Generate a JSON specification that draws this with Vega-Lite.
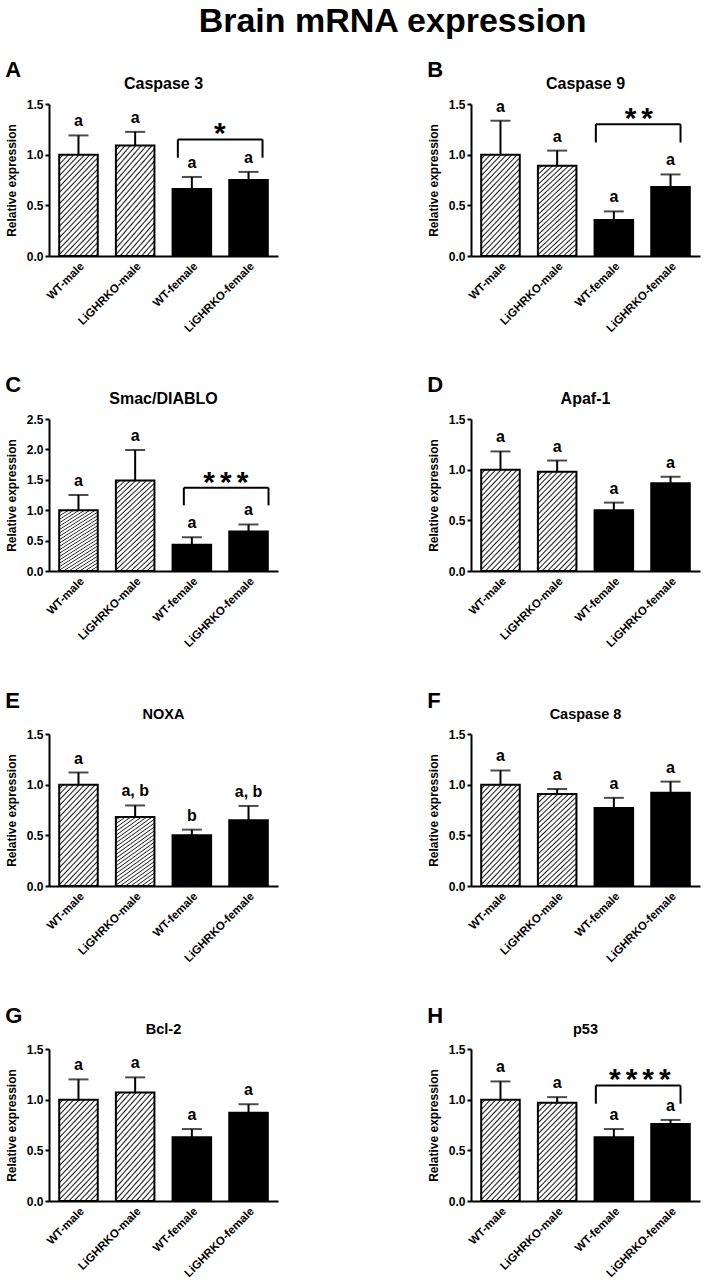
{
  "$schema": "https://vega.github.io/schema/vega-lite/v6.json",
  "title": {"text": "Brain mRNA expression", "fontSize": 34, "anchor": "middle", "offset": 20, "dx": 40},
  "columns": 2,
  "spacing": {"column": 149, "row": 39},
  "datasets": {
    "bars": [
      {"panel": "A", "group": "WT-male", "sex": "male", "mean": 1.0, "upper": 1.19, "letter": "a"},
      {"panel": "A", "group": "LiGHRKO-male", "sex": "male", "mean": 1.09, "upper": 1.225, "letter": "a"},
      {"panel": "A", "group": "WT-female", "sex": "female", "mean": 0.66, "upper": 0.78, "letter": "a"},
      {"panel": "A", "group": "LiGHRKO-female", "sex": "female", "mean": 0.75, "upper": 0.83, "letter": "a"},
      {"panel": "B", "group": "WT-male", "sex": "male", "mean": 1.0, "upper": 1.335, "letter": "a"},
      {"panel": "B", "group": "LiGHRKO-male", "sex": "male", "mean": 0.89, "upper": 1.04, "letter": "a"},
      {"panel": "B", "group": "WT-female", "sex": "female", "mean": 0.355, "upper": 0.44, "letter": "a"},
      {"panel": "B", "group": "LiGHRKO-female", "sex": "female", "mean": 0.68, "upper": 0.805, "letter": "a"},
      {"panel": "C", "group": "WT-male", "sex": "male", "mean": 1.0, "upper": 1.25, "letter": "a"},
      {"panel": "C", "group": "LiGHRKO-male", "sex": "male", "mean": 1.49, "upper": 1.99, "letter": "a"},
      {"panel": "C", "group": "WT-female", "sex": "female", "mean": 0.43, "upper": 0.555, "letter": "a"},
      {"panel": "C", "group": "LiGHRKO-female", "sex": "female", "mean": 0.65, "upper": 0.765, "letter": "a"},
      {"panel": "D", "group": "WT-male", "sex": "male", "mean": 1.0, "upper": 1.18, "letter": "a"},
      {"panel": "D", "group": "LiGHRKO-male", "sex": "male", "mean": 0.98, "upper": 1.09, "letter": "a"},
      {"panel": "D", "group": "WT-female", "sex": "female", "mean": 0.6, "upper": 0.675, "letter": "a"},
      {"panel": "D", "group": "LiGHRKO-female", "sex": "female", "mean": 0.865, "upper": 0.93, "letter": "a"},
      {"panel": "E", "group": "WT-male", "sex": "male", "mean": 1.0, "upper": 1.12, "letter": "a"},
      {"panel": "E", "group": "LiGHRKO-male", "sex": "male", "mean": 0.68, "upper": 0.795, "letter": "a, b"},
      {"panel": "E", "group": "WT-female", "sex": "female", "mean": 0.5, "upper": 0.556, "letter": "b"},
      {"panel": "E", "group": "LiGHRKO-female", "sex": "female", "mean": 0.65, "upper": 0.79, "letter": "a, b"},
      {"panel": "F", "group": "WT-male", "sex": "male", "mean": 1.0, "upper": 1.14, "letter": "a"},
      {"panel": "F", "group": "LiGHRKO-male", "sex": "male", "mean": 0.907, "upper": 0.957, "letter": "a"},
      {"panel": "F", "group": "WT-female", "sex": "female", "mean": 0.77, "upper": 0.87, "letter": "a"},
      {"panel": "F", "group": "LiGHRKO-female", "sex": "female", "mean": 0.92, "upper": 1.03, "letter": "a"},
      {"panel": "G", "group": "WT-male", "sex": "male", "mean": 1.0, "upper": 1.2, "letter": "a"},
      {"panel": "G", "group": "LiGHRKO-male", "sex": "male", "mean": 1.07, "upper": 1.22, "letter": "a"},
      {"panel": "G", "group": "WT-female", "sex": "female", "mean": 0.63, "upper": 0.71, "letter": "a"},
      {"panel": "G", "group": "LiGHRKO-female", "sex": "female", "mean": 0.87, "upper": 0.955, "letter": "a"},
      {"panel": "H", "group": "WT-male", "sex": "male", "mean": 1.0, "upper": 1.18, "letter": "a"},
      {"panel": "H", "group": "LiGHRKO-male", "sex": "male", "mean": 0.97, "upper": 1.025, "letter": "a"},
      {"panel": "H", "group": "WT-female", "sex": "female", "mean": 0.63, "upper": 0.71, "letter": "a"},
      {"panel": "H", "group": "LiGHRKO-female", "sex": "female", "mean": 0.76, "upper": 0.8, "letter": "a"}
    ]
  },
  "concat": [
    {
      "title": {"text": "A", "anchor": "start", "fontSize": 22, "offset": -6},
      "vconcat": [{
        "title": {"text": "Caspase 3", "fontSize": 16, "anchor": "middle", "frame": "group", "offset": 6},
        "width": 229, "height": 152,
        "data": {"name": "bars"},
        "transform": [{"filter": "datum.panel === 'A'"}],
        "encoding": {
          "x": {"field": "group", "type": "nominal", "title": null, "scale": {"domain": ["WT-male", "LiGHRKO-male", "WT-female", "LiGHRKO-female"], "paddingInner": 0.32, "paddingOuter": 0.18}},
          "y": {"field": "mean", "type": "quantitative", "title": "Relative expression", "scale": {"domain": [0, 1.5], "nice": false}, "axis": {"values": [0, 0.5, 1, 1.5], "format": ".1f"}}
        },
        "layer": [
          {"transform": [{"filter": "datum.sex === 'male'"}], "mark": {"type": "bar", "stroke": "black", "strokeWidth": 2, "fill": {"gradient": "linear", "x1": 0, "y1": 0, "x2": 0.48, "y2": 1.2, "stops": [{"offset": 0, "color": "#fff"}, {"offset": 0.018, "color": "#fff"}, {"offset": 0.03, "color": "#222"}, {"offset": 0.04, "color": "#fff"}, {"offset": 0.058, "color": "#fff"}, {"offset": 0.07, "color": "#222"}, {"offset": 0.08, "color": "#fff"}, {"offset": 0.098, "color": "#fff"}, {"offset": 0.11, "color": "#222"}, {"offset": 0.12, "color": "#fff"}, {"offset": 0.138, "color": "#fff"}, {"offset": 0.15, "color": "#222"}, {"offset": 0.16, "color": "#fff"}, {"offset": 0.178, "color": "#fff"}, {"offset": 0.19, "color": "#222"}, {"offset": 0.2, "color": "#fff"}, {"offset": 0.218, "color": "#fff"}, {"offset": 0.23, "color": "#222"}, {"offset": 0.24, "color": "#fff"}, {"offset": 0.258, "color": "#fff"}, {"offset": 0.27, "color": "#222"}, {"offset": 0.28, "color": "#fff"}, {"offset": 0.298, "color": "#fff"}, {"offset": 0.31, "color": "#222"}, {"offset": 0.32, "color": "#fff"}, {"offset": 0.338, "color": "#fff"}, {"offset": 0.35, "color": "#222"}, {"offset": 0.36, "color": "#fff"}, {"offset": 0.378, "color": "#fff"}, {"offset": 0.39, "color": "#222"}, {"offset": 0.4, "color": "#fff"}, {"offset": 0.418, "color": "#fff"}, {"offset": 0.43, "color": "#222"}, {"offset": 0.44, "color": "#fff"}, {"offset": 0.458, "color": "#fff"}, {"offset": 0.47, "color": "#222"}, {"offset": 0.48, "color": "#fff"}, {"offset": 0.498, "color": "#fff"}, {"offset": 0.51, "color": "#222"}, {"offset": 0.52, "color": "#fff"}, {"offset": 0.538, "color": "#fff"}, {"offset": 0.55, "color": "#222"}, {"offset": 0.56, "color": "#fff"}, {"offset": 0.578, "color": "#fff"}, {"offset": 0.59, "color": "#222"}, {"offset": 0.6, "color": "#fff"}, {"offset": 0.618, "color": "#fff"}, {"offset": 0.63, "color": "#222"}, {"offset": 0.64, "color": "#fff"}, {"offset": 0.658, "color": "#fff"}, {"offset": 0.67, "color": "#222"}, {"offset": 0.68, "color": "#fff"}, {"offset": 0.698, "color": "#fff"}, {"offset": 0.71, "color": "#222"}, {"offset": 0.72, "color": "#fff"}, {"offset": 0.738, "color": "#fff"}, {"offset": 0.75, "color": "#222"}, {"offset": 0.76, "color": "#fff"}, {"offset": 0.778, "color": "#fff"}, {"offset": 0.79, "color": "#222"}, {"offset": 0.8, "color": "#fff"}, {"offset": 0.818, "color": "#fff"}, {"offset": 0.83, "color": "#222"}, {"offset": 0.84, "color": "#fff"}, {"offset": 0.858, "color": "#fff"}, {"offset": 0.87, "color": "#222"}, {"offset": 0.88, "color": "#fff"}, {"offset": 0.898, "color": "#fff"}, {"offset": 0.91, "color": "#222"}, {"offset": 0.92, "color": "#fff"}, {"offset": 0.938, "color": "#fff"}, {"offset": 0.95, "color": "#222"}, {"offset": 0.96, "color": "#fff"}, {"offset": 0.978, "color": "#fff"}, {"offset": 0.99, "color": "#222"}, {"offset": 1, "color": "#fff"}]}}},
          {"transform": [{"filter": "datum.sex === 'female'"}], "mark": {"type": "bar", "fill": "black", "stroke": "black", "strokeWidth": 2}},
          {"mark": {"type": "rule", "color": "black", "strokeWidth": 2}, "encoding": {"y2": {"field": "upper"}}},
          {"mark": {"type": "tick", "color": "black", "size": 20, "thickness": 2}, "encoding": {"y": {"field": "upper", "type": "quantitative", "title": "Relative expression", "scale": {"domain": [0, 1.5], "nice": false}}}},
          {"mark": {"type": "text", "dy": -9, "fontSize": 16, "fontWeight": "bold", "baseline": "alphabetic", "color": "black"}, "encoding": {"y": {"field": "upper", "type": "quantitative", "title": "Relative expression", "scale": {"domain": [0, 1.5], "nice": false}}, "text": {"field": "letter"}}},
          {
            "data": {"values": [{"from": "WT-female", "to": "LiGHRKO-female", "top": 1.15, "bottom": 0.97, "stars": "*"}]},
            "encoding": {
              "x": {"field": "from", "type": "nominal", "title": null, "scale": {"domain": ["WT-male", "LiGHRKO-male", "WT-female", "LiGHRKO-female"]}},
              "y": {"field": "top", "type": "quantitative", "title": "Relative expression", "scale": {"domain": [0, 1.5], "nice": false}}
            },
            "layer": [
              {"mark": {"type": "rule", "color": "black", "strokeWidth": 2, "xOffset": -14, "x2Offset": 14}, "encoding": {"x2": {"field": "to"}}},
              {"mark": {"type": "rule", "color": "black", "strokeWidth": 2, "xOffset": -14}, "encoding": {"y2": {"field": "bottom"}}},
              {"mark": {"type": "rule", "color": "black", "strokeWidth": 2, "xOffset": 14}, "encoding": {"x": {"field": "to", "type": "nominal", "title": null, "scale": {"domain": ["WT-male", "LiGHRKO-male", "WT-female", "LiGHRKO-female"]}}, "y2": {"field": "bottom"}}},
              {"mark": {"type": "text", "dx": 28, "dy": 4, "fontSize": 30, "fontWeight": "bold", "baseline": "alphabetic", "color": "black"}, "encoding": {"text": {"field": "stars"}}}
            ]
          }
        ]
      }]
    },
    {
      "title": {"text": "B", "anchor": "start", "fontSize": 22, "offset": -6},
      "vconcat": [{
        "title": {"text": "Caspase 9", "fontSize": 16, "anchor": "middle", "frame": "group", "offset": 6},
        "width": 229, "height": 152,
        "data": {"name": "bars"},
        "transform": [{"filter": "datum.panel === 'B'"}],
        "encoding": {
          "x": {"field": "group", "type": "nominal", "title": null, "scale": {"domain": ["WT-male", "LiGHRKO-male", "WT-female", "LiGHRKO-female"], "paddingInner": 0.32, "paddingOuter": 0.18}},
          "y": {"field": "mean", "type": "quantitative", "title": "Relative expression", "scale": {"domain": [0, 1.5], "nice": false}, "axis": {"values": [0, 0.5, 1, 1.5], "format": ".1f"}}
        },
        "layer": [
          {"transform": [{"filter": "datum.sex === 'male'"}], "mark": {"type": "bar", "stroke": "black", "strokeWidth": 2, "fill": {"gradient": "linear", "x1": 0, "y1": 0, "x2": 0.48, "y2": 1.2, "stops": [{"offset": 0, "color": "#fff"}, {"offset": 0.018, "color": "#fff"}, {"offset": 0.03, "color": "#222"}, {"offset": 0.04, "color": "#fff"}, {"offset": 0.058, "color": "#fff"}, {"offset": 0.07, "color": "#222"}, {"offset": 0.08, "color": "#fff"}, {"offset": 0.098, "color": "#fff"}, {"offset": 0.11, "color": "#222"}, {"offset": 0.12, "color": "#fff"}, {"offset": 0.138, "color": "#fff"}, {"offset": 0.15, "color": "#222"}, {"offset": 0.16, "color": "#fff"}, {"offset": 0.178, "color": "#fff"}, {"offset": 0.19, "color": "#222"}, {"offset": 0.2, "color": "#fff"}, {"offset": 0.218, "color": "#fff"}, {"offset": 0.23, "color": "#222"}, {"offset": 0.24, "color": "#fff"}, {"offset": 0.258, "color": "#fff"}, {"offset": 0.27, "color": "#222"}, {"offset": 0.28, "color": "#fff"}, {"offset": 0.298, "color": "#fff"}, {"offset": 0.31, "color": "#222"}, {"offset": 0.32, "color": "#fff"}, {"offset": 0.338, "color": "#fff"}, {"offset": 0.35, "color": "#222"}, {"offset": 0.36, "color": "#fff"}, {"offset": 0.378, "color": "#fff"}, {"offset": 0.39, "color": "#222"}, {"offset": 0.4, "color": "#fff"}, {"offset": 0.418, "color": "#fff"}, {"offset": 0.43, "color": "#222"}, {"offset": 0.44, "color": "#fff"}, {"offset": 0.458, "color": "#fff"}, {"offset": 0.47, "color": "#222"}, {"offset": 0.48, "color": "#fff"}, {"offset": 0.498, "color": "#fff"}, {"offset": 0.51, "color": "#222"}, {"offset": 0.52, "color": "#fff"}, {"offset": 0.538, "color": "#fff"}, {"offset": 0.55, "color": "#222"}, {"offset": 0.56, "color": "#fff"}, {"offset": 0.578, "color": "#fff"}, {"offset": 0.59, "color": "#222"}, {"offset": 0.6, "color": "#fff"}, {"offset": 0.618, "color": "#fff"}, {"offset": 0.63, "color": "#222"}, {"offset": 0.64, "color": "#fff"}, {"offset": 0.658, "color": "#fff"}, {"offset": 0.67, "color": "#222"}, {"offset": 0.68, "color": "#fff"}, {"offset": 0.698, "color": "#fff"}, {"offset": 0.71, "color": "#222"}, {"offset": 0.72, "color": "#fff"}, {"offset": 0.738, "color": "#fff"}, {"offset": 0.75, "color": "#222"}, {"offset": 0.76, "color": "#fff"}, {"offset": 0.778, "color": "#fff"}, {"offset": 0.79, "color": "#222"}, {"offset": 0.8, "color": "#fff"}, {"offset": 0.818, "color": "#fff"}, {"offset": 0.83, "color": "#222"}, {"offset": 0.84, "color": "#fff"}, {"offset": 0.858, "color": "#fff"}, {"offset": 0.87, "color": "#222"}, {"offset": 0.88, "color": "#fff"}, {"offset": 0.898, "color": "#fff"}, {"offset": 0.91, "color": "#222"}, {"offset": 0.92, "color": "#fff"}, {"offset": 0.938, "color": "#fff"}, {"offset": 0.95, "color": "#222"}, {"offset": 0.96, "color": "#fff"}, {"offset": 0.978, "color": "#fff"}, {"offset": 0.99, "color": "#222"}, {"offset": 1, "color": "#fff"}]}}},
          {"transform": [{"filter": "datum.sex === 'female'"}], "mark": {"type": "bar", "fill": "black", "stroke": "black", "strokeWidth": 2}},
          {"mark": {"type": "rule", "color": "black", "strokeWidth": 2}, "encoding": {"y2": {"field": "upper"}}},
          {"mark": {"type": "tick", "color": "black", "size": 20, "thickness": 2}, "encoding": {"y": {"field": "upper", "type": "quantitative", "title": "Relative expression", "scale": {"domain": [0, 1.5], "nice": false}}}},
          {"mark": {"type": "text", "dy": -9, "fontSize": 16, "fontWeight": "bold", "baseline": "alphabetic", "color": "black"}, "encoding": {"y": {"field": "upper", "type": "quantitative", "title": "Relative expression", "scale": {"domain": [0, 1.5], "nice": false}}, "text": {"field": "letter"}}},
          {
            "data": {"values": [{"from": "WT-female", "to": "LiGHRKO-female", "top": 1.3, "bottom": 1.12, "stars": "*\u2006*"}]},
            "encoding": {
              "x": {"field": "from", "type": "nominal", "title": null, "scale": {"domain": ["WT-male", "LiGHRKO-male", "WT-female", "LiGHRKO-female"]}},
              "y": {"field": "top", "type": "quantitative", "title": "Relative expression", "scale": {"domain": [0, 1.5], "nice": false}}
            },
            "layer": [
              {"mark": {"type": "rule", "color": "black", "strokeWidth": 2, "xOffset": -18, "x2Offset": 10}, "encoding": {"x2": {"field": "to"}}},
              {"mark": {"type": "rule", "color": "black", "strokeWidth": 2, "xOffset": -18}, "encoding": {"y2": {"field": "bottom"}}},
              {"mark": {"type": "rule", "color": "black", "strokeWidth": 2, "xOffset": 10}, "encoding": {"x": {"field": "to", "type": "nominal", "title": null, "scale": {"domain": ["WT-male", "LiGHRKO-male", "WT-female", "LiGHRKO-female"]}}, "y2": {"field": "bottom"}}},
              {"mark": {"type": "text", "dx": 25, "dy": 4, "fontSize": 30, "fontWeight": "bold", "baseline": "alphabetic", "color": "black"}, "encoding": {"text": {"field": "stars"}}}
            ]
          }
        ]
      }]
    },
    {
      "title": {"text": "C", "anchor": "start", "fontSize": 22, "offset": -6},
      "vconcat": [{
        "title": {"text": "Smac/DIABLO", "fontSize": 16, "anchor": "middle", "frame": "group", "offset": 6},
        "width": 229, "height": 152,
        "data": {"name": "bars"},
        "transform": [{"filter": "datum.panel === 'C'"}],
        "encoding": {
          "x": {"field": "group", "type": "nominal", "title": null, "scale": {"domain": ["WT-male", "LiGHRKO-male", "WT-female", "LiGHRKO-female"], "paddingInner": 0.32, "paddingOuter": 0.18}},
          "y": {"field": "mean", "type": "quantitative", "title": "Relative expression", "scale": {"domain": [0, 2.5], "nice": false}, "axis": {"values": [0, 0.5, 1, 1.5, 2, 2.5], "format": ".1f"}}
        },
        "layer": [
          {"transform": [{"filter": "datum.sex === 'male'"}], "mark": {"type": "bar", "stroke": "black", "strokeWidth": 2, "fill": {"gradient": "linear", "x1": 0, "y1": 0, "x2": 0.48, "y2": 1.2, "stops": [{"offset": 0, "color": "#fff"}, {"offset": 0.018, "color": "#fff"}, {"offset": 0.03, "color": "#222"}, {"offset": 0.04, "color": "#fff"}, {"offset": 0.058, "color": "#fff"}, {"offset": 0.07, "color": "#222"}, {"offset": 0.08, "color": "#fff"}, {"offset": 0.098, "color": "#fff"}, {"offset": 0.11, "color": "#222"}, {"offset": 0.12, "color": "#fff"}, {"offset": 0.138, "color": "#fff"}, {"offset": 0.15, "color": "#222"}, {"offset": 0.16, "color": "#fff"}, {"offset": 0.178, "color": "#fff"}, {"offset": 0.19, "color": "#222"}, {"offset": 0.2, "color": "#fff"}, {"offset": 0.218, "color": "#fff"}, {"offset": 0.23, "color": "#222"}, {"offset": 0.24, "color": "#fff"}, {"offset": 0.258, "color": "#fff"}, {"offset": 0.27, "color": "#222"}, {"offset": 0.28, "color": "#fff"}, {"offset": 0.298, "color": "#fff"}, {"offset": 0.31, "color": "#222"}, {"offset": 0.32, "color": "#fff"}, {"offset": 0.338, "color": "#fff"}, {"offset": 0.35, "color": "#222"}, {"offset": 0.36, "color": "#fff"}, {"offset": 0.378, "color": "#fff"}, {"offset": 0.39, "color": "#222"}, {"offset": 0.4, "color": "#fff"}, {"offset": 0.418, "color": "#fff"}, {"offset": 0.43, "color": "#222"}, {"offset": 0.44, "color": "#fff"}, {"offset": 0.458, "color": "#fff"}, {"offset": 0.47, "color": "#222"}, {"offset": 0.48, "color": "#fff"}, {"offset": 0.498, "color": "#fff"}, {"offset": 0.51, "color": "#222"}, {"offset": 0.52, "color": "#fff"}, {"offset": 0.538, "color": "#fff"}, {"offset": 0.55, "color": "#222"}, {"offset": 0.56, "color": "#fff"}, {"offset": 0.578, "color": "#fff"}, {"offset": 0.59, "color": "#222"}, {"offset": 0.6, "color": "#fff"}, {"offset": 0.618, "color": "#fff"}, {"offset": 0.63, "color": "#222"}, {"offset": 0.64, "color": "#fff"}, {"offset": 0.658, "color": "#fff"}, {"offset": 0.67, "color": "#222"}, {"offset": 0.68, "color": "#fff"}, {"offset": 0.698, "color": "#fff"}, {"offset": 0.71, "color": "#222"}, {"offset": 0.72, "color": "#fff"}, {"offset": 0.738, "color": "#fff"}, {"offset": 0.75, "color": "#222"}, {"offset": 0.76, "color": "#fff"}, {"offset": 0.778, "color": "#fff"}, {"offset": 0.79, "color": "#222"}, {"offset": 0.8, "color": "#fff"}, {"offset": 0.818, "color": "#fff"}, {"offset": 0.83, "color": "#222"}, {"offset": 0.84, "color": "#fff"}, {"offset": 0.858, "color": "#fff"}, {"offset": 0.87, "color": "#222"}, {"offset": 0.88, "color": "#fff"}, {"offset": 0.898, "color": "#fff"}, {"offset": 0.91, "color": "#222"}, {"offset": 0.92, "color": "#fff"}, {"offset": 0.938, "color": "#fff"}, {"offset": 0.95, "color": "#222"}, {"offset": 0.96, "color": "#fff"}, {"offset": 0.978, "color": "#fff"}, {"offset": 0.99, "color": "#222"}, {"offset": 1, "color": "#fff"}]}}},
          {"transform": [{"filter": "datum.sex === 'female'"}], "mark": {"type": "bar", "fill": "black", "stroke": "black", "strokeWidth": 2}},
          {"mark": {"type": "rule", "color": "black", "strokeWidth": 2}, "encoding": {"y2": {"field": "upper"}}},
          {"mark": {"type": "tick", "color": "black", "size": 20, "thickness": 2}, "encoding": {"y": {"field": "upper", "type": "quantitative", "title": "Relative expression", "scale": {"domain": [0, 2.5], "nice": false}}}},
          {"mark": {"type": "text", "dy": -9, "fontSize": 16, "fontWeight": "bold", "baseline": "alphabetic", "color": "black"}, "encoding": {"y": {"field": "upper", "type": "quantitative", "title": "Relative expression", "scale": {"domain": [0, 2.5], "nice": false}}, "text": {"field": "letter"}}},
          {
            "data": {"values": [{"from": "WT-female", "to": "LiGHRKO-female", "top": 1.37, "bottom": 1.08, "stars": "*\u2006*\u2006*"}]},
            "encoding": {
              "x": {"field": "from", "type": "nominal", "title": null, "scale": {"domain": ["WT-male", "LiGHRKO-male", "WT-female", "LiGHRKO-female"]}},
              "y": {"field": "top", "type": "quantitative", "title": "Relative expression", "scale": {"domain": [0, 2.5], "nice": false}}
            },
            "layer": [
              {"mark": {"type": "rule", "color": "black", "strokeWidth": 2, "xOffset": -8, "x2Offset": 20}, "encoding": {"x2": {"field": "to"}}},
              {"mark": {"type": "rule", "color": "black", "strokeWidth": 2, "xOffset": -8}, "encoding": {"y2": {"field": "bottom"}}},
              {"mark": {"type": "rule", "color": "black", "strokeWidth": 2, "xOffset": 20}, "encoding": {"x": {"field": "to", "type": "nominal", "title": null, "scale": {"domain": ["WT-male", "LiGHRKO-male", "WT-female", "LiGHRKO-female"]}}, "y2": {"field": "bottom"}}},
              {"mark": {"type": "text", "dx": 34, "dy": 4, "fontSize": 30, "fontWeight": "bold", "baseline": "alphabetic", "color": "black"}, "encoding": {"text": {"field": "stars"}}}
            ]
          }
        ]
      }]
    },
    {
      "title": {"text": "D", "anchor": "start", "fontSize": 22, "offset": -6},
      "vconcat": [{
        "title": {"text": "Apaf-1", "fontSize": 16, "anchor": "middle", "frame": "group", "offset": 6},
        "width": 229, "height": 152,
        "data": {"name": "bars"},
        "transform": [{"filter": "datum.panel === 'D'"}],
        "encoding": {
          "x": {"field": "group", "type": "nominal", "title": null, "scale": {"domain": ["WT-male", "LiGHRKO-male", "WT-female", "LiGHRKO-female"], "paddingInner": 0.32, "paddingOuter": 0.18}},
          "y": {"field": "mean", "type": "quantitative", "title": "Relative expression", "scale": {"domain": [0, 1.5], "nice": false}, "axis": {"values": [0, 0.5, 1, 1.5], "format": ".1f"}}
        },
        "layer": [
          {"transform": [{"filter": "datum.sex === 'male'"}], "mark": {"type": "bar", "stroke": "black", "strokeWidth": 2, "fill": {"gradient": "linear", "x1": 0, "y1": 0, "x2": 0.48, "y2": 1.2, "stops": [{"offset": 0, "color": "#fff"}, {"offset": 0.018, "color": "#fff"}, {"offset": 0.03, "color": "#222"}, {"offset": 0.04, "color": "#fff"}, {"offset": 0.058, "color": "#fff"}, {"offset": 0.07, "color": "#222"}, {"offset": 0.08, "color": "#fff"}, {"offset": 0.098, "color": "#fff"}, {"offset": 0.11, "color": "#222"}, {"offset": 0.12, "color": "#fff"}, {"offset": 0.138, "color": "#fff"}, {"offset": 0.15, "color": "#222"}, {"offset": 0.16, "color": "#fff"}, {"offset": 0.178, "color": "#fff"}, {"offset": 0.19, "color": "#222"}, {"offset": 0.2, "color": "#fff"}, {"offset": 0.218, "color": "#fff"}, {"offset": 0.23, "color": "#222"}, {"offset": 0.24, "color": "#fff"}, {"offset": 0.258, "color": "#fff"}, {"offset": 0.27, "color": "#222"}, {"offset": 0.28, "color": "#fff"}, {"offset": 0.298, "color": "#fff"}, {"offset": 0.31, "color": "#222"}, {"offset": 0.32, "color": "#fff"}, {"offset": 0.338, "color": "#fff"}, {"offset": 0.35, "color": "#222"}, {"offset": 0.36, "color": "#fff"}, {"offset": 0.378, "color": "#fff"}, {"offset": 0.39, "color": "#222"}, {"offset": 0.4, "color": "#fff"}, {"offset": 0.418, "color": "#fff"}, {"offset": 0.43, "color": "#222"}, {"offset": 0.44, "color": "#fff"}, {"offset": 0.458, "color": "#fff"}, {"offset": 0.47, "color": "#222"}, {"offset": 0.48, "color": "#fff"}, {"offset": 0.498, "color": "#fff"}, {"offset": 0.51, "color": "#222"}, {"offset": 0.52, "color": "#fff"}, {"offset": 0.538, "color": "#fff"}, {"offset": 0.55, "color": "#222"}, {"offset": 0.56, "color": "#fff"}, {"offset": 0.578, "color": "#fff"}, {"offset": 0.59, "color": "#222"}, {"offset": 0.6, "color": "#fff"}, {"offset": 0.618, "color": "#fff"}, {"offset": 0.63, "color": "#222"}, {"offset": 0.64, "color": "#fff"}, {"offset": 0.658, "color": "#fff"}, {"offset": 0.67, "color": "#222"}, {"offset": 0.68, "color": "#fff"}, {"offset": 0.698, "color": "#fff"}, {"offset": 0.71, "color": "#222"}, {"offset": 0.72, "color": "#fff"}, {"offset": 0.738, "color": "#fff"}, {"offset": 0.75, "color": "#222"}, {"offset": 0.76, "color": "#fff"}, {"offset": 0.778, "color": "#fff"}, {"offset": 0.79, "color": "#222"}, {"offset": 0.8, "color": "#fff"}, {"offset": 0.818, "color": "#fff"}, {"offset": 0.83, "color": "#222"}, {"offset": 0.84, "color": "#fff"}, {"offset": 0.858, "color": "#fff"}, {"offset": 0.87, "color": "#222"}, {"offset": 0.88, "color": "#fff"}, {"offset": 0.898, "color": "#fff"}, {"offset": 0.91, "color": "#222"}, {"offset": 0.92, "color": "#fff"}, {"offset": 0.938, "color": "#fff"}, {"offset": 0.95, "color": "#222"}, {"offset": 0.96, "color": "#fff"}, {"offset": 0.978, "color": "#fff"}, {"offset": 0.99, "color": "#222"}, {"offset": 1, "color": "#fff"}]}}},
          {"transform": [{"filter": "datum.sex === 'female'"}], "mark": {"type": "bar", "fill": "black", "stroke": "black", "strokeWidth": 2}},
          {"mark": {"type": "rule", "color": "black", "strokeWidth": 2}, "encoding": {"y2": {"field": "upper"}}},
          {"mark": {"type": "tick", "color": "black", "size": 20, "thickness": 2}, "encoding": {"y": {"field": "upper", "type": "quantitative", "title": "Relative expression", "scale": {"domain": [0, 1.5], "nice": false}}}},
          {"mark": {"type": "text", "dy": -9, "fontSize": 16, "fontWeight": "bold", "baseline": "alphabetic", "color": "black"}, "encoding": {"y": {"field": "upper", "type": "quantitative", "title": "Relative expression", "scale": {"domain": [0, 1.5], "nice": false}}, "text": {"field": "letter"}}}
        ]
      }]
    },
    {
      "title": {"text": "E", "anchor": "start", "fontSize": 22, "offset": -6},
      "vconcat": [{
        "title": {"text": "NOXA", "fontSize": 14.5, "anchor": "middle", "frame": "group", "offset": 6},
        "width": 229, "height": 152,
        "data": {"name": "bars"},
        "transform": [{"filter": "datum.panel === 'E'"}],
        "encoding": {
          "x": {"field": "group", "type": "nominal", "title": null, "scale": {"domain": ["WT-male", "LiGHRKO-male", "WT-female", "LiGHRKO-female"], "paddingInner": 0.32, "paddingOuter": 0.18}},
          "y": {"field": "mean", "type": "quantitative", "title": "Relative expression", "scale": {"domain": [0, 1.5], "nice": false}, "axis": {"values": [0, 0.5, 1, 1.5], "format": ".1f"}}
        },
        "layer": [
          {"transform": [{"filter": "datum.sex === 'male'"}], "mark": {"type": "bar", "stroke": "black", "strokeWidth": 2, "fill": {"gradient": "linear", "x1": 0, "y1": 0, "x2": 0.48, "y2": 1.2, "stops": [{"offset": 0, "color": "#fff"}, {"offset": 0.018, "color": "#fff"}, {"offset": 0.03, "color": "#222"}, {"offset": 0.04, "color": "#fff"}, {"offset": 0.058, "color": "#fff"}, {"offset": 0.07, "color": "#222"}, {"offset": 0.08, "color": "#fff"}, {"offset": 0.098, "color": "#fff"}, {"offset": 0.11, "color": "#222"}, {"offset": 0.12, "color": "#fff"}, {"offset": 0.138, "color": "#fff"}, {"offset": 0.15, "color": "#222"}, {"offset": 0.16, "color": "#fff"}, {"offset": 0.178, "color": "#fff"}, {"offset": 0.19, "color": "#222"}, {"offset": 0.2, "color": "#fff"}, {"offset": 0.218, "color": "#fff"}, {"offset": 0.23, "color": "#222"}, {"offset": 0.24, "color": "#fff"}, {"offset": 0.258, "color": "#fff"}, {"offset": 0.27, "color": "#222"}, {"offset": 0.28, "color": "#fff"}, {"offset": 0.298, "color": "#fff"}, {"offset": 0.31, "color": "#222"}, {"offset": 0.32, "color": "#fff"}, {"offset": 0.338, "color": "#fff"}, {"offset": 0.35, "color": "#222"}, {"offset": 0.36, "color": "#fff"}, {"offset": 0.378, "color": "#fff"}, {"offset": 0.39, "color": "#222"}, {"offset": 0.4, "color": "#fff"}, {"offset": 0.418, "color": "#fff"}, {"offset": 0.43, "color": "#222"}, {"offset": 0.44, "color": "#fff"}, {"offset": 0.458, "color": "#fff"}, {"offset": 0.47, "color": "#222"}, {"offset": 0.48, "color": "#fff"}, {"offset": 0.498, "color": "#fff"}, {"offset": 0.51, "color": "#222"}, {"offset": 0.52, "color": "#fff"}, {"offset": 0.538, "color": "#fff"}, {"offset": 0.55, "color": "#222"}, {"offset": 0.56, "color": "#fff"}, {"offset": 0.578, "color": "#fff"}, {"offset": 0.59, "color": "#222"}, {"offset": 0.6, "color": "#fff"}, {"offset": 0.618, "color": "#fff"}, {"offset": 0.63, "color": "#222"}, {"offset": 0.64, "color": "#fff"}, {"offset": 0.658, "color": "#fff"}, {"offset": 0.67, "color": "#222"}, {"offset": 0.68, "color": "#fff"}, {"offset": 0.698, "color": "#fff"}, {"offset": 0.71, "color": "#222"}, {"offset": 0.72, "color": "#fff"}, {"offset": 0.738, "color": "#fff"}, {"offset": 0.75, "color": "#222"}, {"offset": 0.76, "color": "#fff"}, {"offset": 0.778, "color": "#fff"}, {"offset": 0.79, "color": "#222"}, {"offset": 0.8, "color": "#fff"}, {"offset": 0.818, "color": "#fff"}, {"offset": 0.83, "color": "#222"}, {"offset": 0.84, "color": "#fff"}, {"offset": 0.858, "color": "#fff"}, {"offset": 0.87, "color": "#222"}, {"offset": 0.88, "color": "#fff"}, {"offset": 0.898, "color": "#fff"}, {"offset": 0.91, "color": "#222"}, {"offset": 0.92, "color": "#fff"}, {"offset": 0.938, "color": "#fff"}, {"offset": 0.95, "color": "#222"}, {"offset": 0.96, "color": "#fff"}, {"offset": 0.978, "color": "#fff"}, {"offset": 0.99, "color": "#222"}, {"offset": 1, "color": "#fff"}]}}},
          {"transform": [{"filter": "datum.sex === 'female'"}], "mark": {"type": "bar", "fill": "black", "stroke": "black", "strokeWidth": 2}},
          {"mark": {"type": "rule", "color": "black", "strokeWidth": 2}, "encoding": {"y2": {"field": "upper"}}},
          {"mark": {"type": "tick", "color": "black", "size": 20, "thickness": 2}, "encoding": {"y": {"field": "upper", "type": "quantitative", "title": "Relative expression", "scale": {"domain": [0, 1.5], "nice": false}}}},
          {"mark": {"type": "text", "dy": -9, "fontSize": 16, "fontWeight": "bold", "baseline": "alphabetic", "color": "black"}, "encoding": {"y": {"field": "upper", "type": "quantitative", "title": "Relative expression", "scale": {"domain": [0, 1.5], "nice": false}}, "text": {"field": "letter"}}}
        ]
      }]
    },
    {
      "title": {"text": "F", "anchor": "start", "fontSize": 22, "offset": -6},
      "vconcat": [{
        "title": {"text": "Caspase 8", "fontSize": 14.5, "anchor": "middle", "frame": "group", "offset": 6},
        "width": 229, "height": 152,
        "data": {"name": "bars"},
        "transform": [{"filter": "datum.panel === 'F'"}],
        "encoding": {
          "x": {"field": "group", "type": "nominal", "title": null, "scale": {"domain": ["WT-male", "LiGHRKO-male", "WT-female", "LiGHRKO-female"], "paddingInner": 0.32, "paddingOuter": 0.18}},
          "y": {"field": "mean", "type": "quantitative", "title": "Relative expression", "scale": {"domain": [0, 1.5], "nice": false}, "axis": {"values": [0, 0.5, 1, 1.5], "format": ".1f"}}
        },
        "layer": [
          {"transform": [{"filter": "datum.sex === 'male'"}], "mark": {"type": "bar", "stroke": "black", "strokeWidth": 2, "fill": {"gradient": "linear", "x1": 0, "y1": 0, "x2": 0.48, "y2": 1.2, "stops": [{"offset": 0, "color": "#fff"}, {"offset": 0.018, "color": "#fff"}, {"offset": 0.03, "color": "#222"}, {"offset": 0.04, "color": "#fff"}, {"offset": 0.058, "color": "#fff"}, {"offset": 0.07, "color": "#222"}, {"offset": 0.08, "color": "#fff"}, {"offset": 0.098, "color": "#fff"}, {"offset": 0.11, "color": "#222"}, {"offset": 0.12, "color": "#fff"}, {"offset": 0.138, "color": "#fff"}, {"offset": 0.15, "color": "#222"}, {"offset": 0.16, "color": "#fff"}, {"offset": 0.178, "color": "#fff"}, {"offset": 0.19, "color": "#222"}, {"offset": 0.2, "color": "#fff"}, {"offset": 0.218, "color": "#fff"}, {"offset": 0.23, "color": "#222"}, {"offset": 0.24, "color": "#fff"}, {"offset": 0.258, "color": "#fff"}, {"offset": 0.27, "color": "#222"}, {"offset": 0.28, "color": "#fff"}, {"offset": 0.298, "color": "#fff"}, {"offset": 0.31, "color": "#222"}, {"offset": 0.32, "color": "#fff"}, {"offset": 0.338, "color": "#fff"}, {"offset": 0.35, "color": "#222"}, {"offset": 0.36, "color": "#fff"}, {"offset": 0.378, "color": "#fff"}, {"offset": 0.39, "color": "#222"}, {"offset": 0.4, "color": "#fff"}, {"offset": 0.418, "color": "#fff"}, {"offset": 0.43, "color": "#222"}, {"offset": 0.44, "color": "#fff"}, {"offset": 0.458, "color": "#fff"}, {"offset": 0.47, "color": "#222"}, {"offset": 0.48, "color": "#fff"}, {"offset": 0.498, "color": "#fff"}, {"offset": 0.51, "color": "#222"}, {"offset": 0.52, "color": "#fff"}, {"offset": 0.538, "color": "#fff"}, {"offset": 0.55, "color": "#222"}, {"offset": 0.56, "color": "#fff"}, {"offset": 0.578, "color": "#fff"}, {"offset": 0.59, "color": "#222"}, {"offset": 0.6, "color": "#fff"}, {"offset": 0.618, "color": "#fff"}, {"offset": 0.63, "color": "#222"}, {"offset": 0.64, "color": "#fff"}, {"offset": 0.658, "color": "#fff"}, {"offset": 0.67, "color": "#222"}, {"offset": 0.68, "color": "#fff"}, {"offset": 0.698, "color": "#fff"}, {"offset": 0.71, "color": "#222"}, {"offset": 0.72, "color": "#fff"}, {"offset": 0.738, "color": "#fff"}, {"offset": 0.75, "color": "#222"}, {"offset": 0.76, "color": "#fff"}, {"offset": 0.778, "color": "#fff"}, {"offset": 0.79, "color": "#222"}, {"offset": 0.8, "color": "#fff"}, {"offset": 0.818, "color": "#fff"}, {"offset": 0.83, "color": "#222"}, {"offset": 0.84, "color": "#fff"}, {"offset": 0.858, "color": "#fff"}, {"offset": 0.87, "color": "#222"}, {"offset": 0.88, "color": "#fff"}, {"offset": 0.898, "color": "#fff"}, {"offset": 0.91, "color": "#222"}, {"offset": 0.92, "color": "#fff"}, {"offset": 0.938, "color": "#fff"}, {"offset": 0.95, "color": "#222"}, {"offset": 0.96, "color": "#fff"}, {"offset": 0.978, "color": "#fff"}, {"offset": 0.99, "color": "#222"}, {"offset": 1, "color": "#fff"}]}}},
          {"transform": [{"filter": "datum.sex === 'female'"}], "mark": {"type": "bar", "fill": "black", "stroke": "black", "strokeWidth": 2}},
          {"mark": {"type": "rule", "color": "black", "strokeWidth": 2}, "encoding": {"y2": {"field": "upper"}}},
          {"mark": {"type": "tick", "color": "black", "size": 20, "thickness": 2}, "encoding": {"y": {"field": "upper", "type": "quantitative", "title": "Relative expression", "scale": {"domain": [0, 1.5], "nice": false}}}},
          {"mark": {"type": "text", "dy": -9, "fontSize": 16, "fontWeight": "bold", "baseline": "alphabetic", "color": "black"}, "encoding": {"y": {"field": "upper", "type": "quantitative", "title": "Relative expression", "scale": {"domain": [0, 1.5], "nice": false}}, "text": {"field": "letter"}}}
        ]
      }]
    },
    {
      "title": {"text": "G", "anchor": "start", "fontSize": 22, "offset": -6},
      "vconcat": [{
        "title": {"text": "Bcl-2", "fontSize": 14.5, "anchor": "middle", "frame": "group", "offset": 6},
        "width": 229, "height": 152,
        "data": {"name": "bars"},
        "transform": [{"filter": "datum.panel === 'G'"}],
        "encoding": {
          "x": {"field": "group", "type": "nominal", "title": null, "scale": {"domain": ["WT-male", "LiGHRKO-male", "WT-female", "LiGHRKO-female"], "paddingInner": 0.32, "paddingOuter": 0.18}},
          "y": {"field": "mean", "type": "quantitative", "title": "Relative expression", "scale": {"domain": [0, 1.5], "nice": false}, "axis": {"values": [0, 0.5, 1, 1.5], "format": ".1f"}}
        },
        "layer": [
          {"transform": [{"filter": "datum.sex === 'male'"}], "mark": {"type": "bar", "stroke": "black", "strokeWidth": 2, "fill": {"gradient": "linear", "x1": 0, "y1": 0, "x2": 0.48, "y2": 1.2, "stops": [{"offset": 0, "color": "#fff"}, {"offset": 0.018, "color": "#fff"}, {"offset": 0.03, "color": "#222"}, {"offset": 0.04, "color": "#fff"}, {"offset": 0.058, "color": "#fff"}, {"offset": 0.07, "color": "#222"}, {"offset": 0.08, "color": "#fff"}, {"offset": 0.098, "color": "#fff"}, {"offset": 0.11, "color": "#222"}, {"offset": 0.12, "color": "#fff"}, {"offset": 0.138, "color": "#fff"}, {"offset": 0.15, "color": "#222"}, {"offset": 0.16, "color": "#fff"}, {"offset": 0.178, "color": "#fff"}, {"offset": 0.19, "color": "#222"}, {"offset": 0.2, "color": "#fff"}, {"offset": 0.218, "color": "#fff"}, {"offset": 0.23, "color": "#222"}, {"offset": 0.24, "color": "#fff"}, {"offset": 0.258, "color": "#fff"}, {"offset": 0.27, "color": "#222"}, {"offset": 0.28, "color": "#fff"}, {"offset": 0.298, "color": "#fff"}, {"offset": 0.31, "color": "#222"}, {"offset": 0.32, "color": "#fff"}, {"offset": 0.338, "color": "#fff"}, {"offset": 0.35, "color": "#222"}, {"offset": 0.36, "color": "#fff"}, {"offset": 0.378, "color": "#fff"}, {"offset": 0.39, "color": "#222"}, {"offset": 0.4, "color": "#fff"}, {"offset": 0.418, "color": "#fff"}, {"offset": 0.43, "color": "#222"}, {"offset": 0.44, "color": "#fff"}, {"offset": 0.458, "color": "#fff"}, {"offset": 0.47, "color": "#222"}, {"offset": 0.48, "color": "#fff"}, {"offset": 0.498, "color": "#fff"}, {"offset": 0.51, "color": "#222"}, {"offset": 0.52, "color": "#fff"}, {"offset": 0.538, "color": "#fff"}, {"offset": 0.55, "color": "#222"}, {"offset": 0.56, "color": "#fff"}, {"offset": 0.578, "color": "#fff"}, {"offset": 0.59, "color": "#222"}, {"offset": 0.6, "color": "#fff"}, {"offset": 0.618, "color": "#fff"}, {"offset": 0.63, "color": "#222"}, {"offset": 0.64, "color": "#fff"}, {"offset": 0.658, "color": "#fff"}, {"offset": 0.67, "color": "#222"}, {"offset": 0.68, "color": "#fff"}, {"offset": 0.698, "color": "#fff"}, {"offset": 0.71, "color": "#222"}, {"offset": 0.72, "color": "#fff"}, {"offset": 0.738, "color": "#fff"}, {"offset": 0.75, "color": "#222"}, {"offset": 0.76, "color": "#fff"}, {"offset": 0.778, "color": "#fff"}, {"offset": 0.79, "color": "#222"}, {"offset": 0.8, "color": "#fff"}, {"offset": 0.818, "color": "#fff"}, {"offset": 0.83, "color": "#222"}, {"offset": 0.84, "color": "#fff"}, {"offset": 0.858, "color": "#fff"}, {"offset": 0.87, "color": "#222"}, {"offset": 0.88, "color": "#fff"}, {"offset": 0.898, "color": "#fff"}, {"offset": 0.91, "color": "#222"}, {"offset": 0.92, "color": "#fff"}, {"offset": 0.938, "color": "#fff"}, {"offset": 0.95, "color": "#222"}, {"offset": 0.96, "color": "#fff"}, {"offset": 0.978, "color": "#fff"}, {"offset": 0.99, "color": "#222"}, {"offset": 1, "color": "#fff"}]}}},
          {"transform": [{"filter": "datum.sex === 'female'"}], "mark": {"type": "bar", "fill": "black", "stroke": "black", "strokeWidth": 2}},
          {"mark": {"type": "rule", "color": "black", "strokeWidth": 2}, "encoding": {"y2": {"field": "upper"}}},
          {"mark": {"type": "tick", "color": "black", "size": 20, "thickness": 2}, "encoding": {"y": {"field": "upper", "type": "quantitative", "title": "Relative expression", "scale": {"domain": [0, 1.5], "nice": false}}}},
          {"mark": {"type": "text", "dy": -9, "fontSize": 16, "fontWeight": "bold", "baseline": "alphabetic", "color": "black"}, "encoding": {"y": {"field": "upper", "type": "quantitative", "title": "Relative expression", "scale": {"domain": [0, 1.5], "nice": false}}, "text": {"field": "letter"}}}
        ]
      }]
    },
    {
      "title": {"text": "H", "anchor": "start", "fontSize": 22, "offset": -6},
      "vconcat": [{
        "title": {"text": "p53", "fontSize": 14.5, "anchor": "middle", "frame": "group", "offset": 6},
        "width": 229, "height": 152,
        "data": {"name": "bars"},
        "transform": [{"filter": "datum.panel === 'H'"}],
        "encoding": {
          "x": {"field": "group", "type": "nominal", "title": null, "scale": {"domain": ["WT-male", "LiGHRKO-male", "WT-female", "LiGHRKO-female"], "paddingInner": 0.32, "paddingOuter": 0.18}},
          "y": {"field": "mean", "type": "quantitative", "title": "Relative expression", "scale": {"domain": [0, 1.5], "nice": false}, "axis": {"values": [0, 0.5, 1, 1.5], "format": ".1f"}}
        },
        "layer": [
          {"transform": [{"filter": "datum.sex === 'male'"}], "mark": {"type": "bar", "stroke": "black", "strokeWidth": 2, "fill": {"gradient": "linear", "x1": 0, "y1": 0, "x2": 0.48, "y2": 1.2, "stops": [{"offset": 0, "color": "#fff"}, {"offset": 0.018, "color": "#fff"}, {"offset": 0.03, "color": "#222"}, {"offset": 0.04, "color": "#fff"}, {"offset": 0.058, "color": "#fff"}, {"offset": 0.07, "color": "#222"}, {"offset": 0.08, "color": "#fff"}, {"offset": 0.098, "color": "#fff"}, {"offset": 0.11, "color": "#222"}, {"offset": 0.12, "color": "#fff"}, {"offset": 0.138, "color": "#fff"}, {"offset": 0.15, "color": "#222"}, {"offset": 0.16, "color": "#fff"}, {"offset": 0.178, "color": "#fff"}, {"offset": 0.19, "color": "#222"}, {"offset": 0.2, "color": "#fff"}, {"offset": 0.218, "color": "#fff"}, {"offset": 0.23, "color": "#222"}, {"offset": 0.24, "color": "#fff"}, {"offset": 0.258, "color": "#fff"}, {"offset": 0.27, "color": "#222"}, {"offset": 0.28, "color": "#fff"}, {"offset": 0.298, "color": "#fff"}, {"offset": 0.31, "color": "#222"}, {"offset": 0.32, "color": "#fff"}, {"offset": 0.338, "color": "#fff"}, {"offset": 0.35, "color": "#222"}, {"offset": 0.36, "color": "#fff"}, {"offset": 0.378, "color": "#fff"}, {"offset": 0.39, "color": "#222"}, {"offset": 0.4, "color": "#fff"}, {"offset": 0.418, "color": "#fff"}, {"offset": 0.43, "color": "#222"}, {"offset": 0.44, "color": "#fff"}, {"offset": 0.458, "color": "#fff"}, {"offset": 0.47, "color": "#222"}, {"offset": 0.48, "color": "#fff"}, {"offset": 0.498, "color": "#fff"}, {"offset": 0.51, "color": "#222"}, {"offset": 0.52, "color": "#fff"}, {"offset": 0.538, "color": "#fff"}, {"offset": 0.55, "color": "#222"}, {"offset": 0.56, "color": "#fff"}, {"offset": 0.578, "color": "#fff"}, {"offset": 0.59, "color": "#222"}, {"offset": 0.6, "color": "#fff"}, {"offset": 0.618, "color": "#fff"}, {"offset": 0.63, "color": "#222"}, {"offset": 0.64, "color": "#fff"}, {"offset": 0.658, "color": "#fff"}, {"offset": 0.67, "color": "#222"}, {"offset": 0.68, "color": "#fff"}, {"offset": 0.698, "color": "#fff"}, {"offset": 0.71, "color": "#222"}, {"offset": 0.72, "color": "#fff"}, {"offset": 0.738, "color": "#fff"}, {"offset": 0.75, "color": "#222"}, {"offset": 0.76, "color": "#fff"}, {"offset": 0.778, "color": "#fff"}, {"offset": 0.79, "color": "#222"}, {"offset": 0.8, "color": "#fff"}, {"offset": 0.818, "color": "#fff"}, {"offset": 0.83, "color": "#222"}, {"offset": 0.84, "color": "#fff"}, {"offset": 0.858, "color": "#fff"}, {"offset": 0.87, "color": "#222"}, {"offset": 0.88, "color": "#fff"}, {"offset": 0.898, "color": "#fff"}, {"offset": 0.91, "color": "#222"}, {"offset": 0.92, "color": "#fff"}, {"offset": 0.938, "color": "#fff"}, {"offset": 0.95, "color": "#222"}, {"offset": 0.96, "color": "#fff"}, {"offset": 0.978, "color": "#fff"}, {"offset": 0.99, "color": "#222"}, {"offset": 1, "color": "#fff"}]}}},
          {"transform": [{"filter": "datum.sex === 'female'"}], "mark": {"type": "bar", "fill": "black", "stroke": "black", "strokeWidth": 2}},
          {"mark": {"type": "rule", "color": "black", "strokeWidth": 2}, "encoding": {"y2": {"field": "upper"}}},
          {"mark": {"type": "tick", "color": "black", "size": 20, "thickness": 2}, "encoding": {"y": {"field": "upper", "type": "quantitative", "title": "Relative expression", "scale": {"domain": [0, 1.5], "nice": false}}}},
          {"mark": {"type": "text", "dy": -9, "fontSize": 16, "fontWeight": "bold", "baseline": "alphabetic", "color": "black"}, "encoding": {"y": {"field": "upper", "type": "quantitative", "title": "Relative expression", "scale": {"domain": [0, 1.5], "nice": false}}, "text": {"field": "letter"}}},
          {
            "data": {"values": [{"from": "WT-female", "to": "LiGHRKO-female", "top": 1.14, "bottom": 0.96, "stars": "*\u2006*\u2006*\u2006*"}]},
            "encoding": {
              "x": {"field": "from", "type": "nominal", "title": null, "scale": {"domain": ["WT-male", "LiGHRKO-male", "WT-female", "LiGHRKO-female"]}},
              "y": {"field": "top", "type": "quantitative", "title": "Relative expression", "scale": {"domain": [0, 1.5], "nice": false}}
            },
            "layer": [
              {"mark": {"type": "rule", "color": "black", "strokeWidth": 2, "xOffset": -18, "x2Offset": 10}, "encoding": {"x2": {"field": "to"}}},
              {"mark": {"type": "rule", "color": "black", "strokeWidth": 2, "xOffset": -18}, "encoding": {"y2": {"field": "bottom"}}},
              {"mark": {"type": "rule", "color": "black", "strokeWidth": 2, "xOffset": 10}, "encoding": {"x": {"field": "to", "type": "nominal", "title": null, "scale": {"domain": ["WT-male", "LiGHRKO-male", "WT-female", "LiGHRKO-female"]}}, "y2": {"field": "bottom"}}},
              {"mark": {"type": "text", "dx": 26, "dy": 4, "fontSize": 30, "fontWeight": "bold", "baseline": "alphabetic", "color": "black"}, "encoding": {"text": {"field": "stars"}}}
            ]
          }
        ]
      }]
    }
  ],
  "config": {
    "font": "Liberation Sans",
    "view": {"stroke": null},
    "title": {"color": "black", "font": "Liberation Sans", "fontWeight": "bold"},
    "axis": {"grid": false, "domainColor": "black", "domainWidth": 2, "tickColor": "black", "tickWidth": 2, "tickSize": 4, "labelColor": "black", "labelFont": "Liberation Sans", "labelFontSize": 12, "labelFontWeight": "bold", "titleColor": "black", "titleFont": "Liberation Sans", "titleFontSize": 12, "titleFontWeight": "bold", "labelPadding": 2, "titlePadding": 8},
    "axisX": {"labelAngle": -45, "ticks": false, "labelPadding": 4, "labelFontSize": 11.5},
    "text": {"font": "Liberation Sans"}
  }
}
